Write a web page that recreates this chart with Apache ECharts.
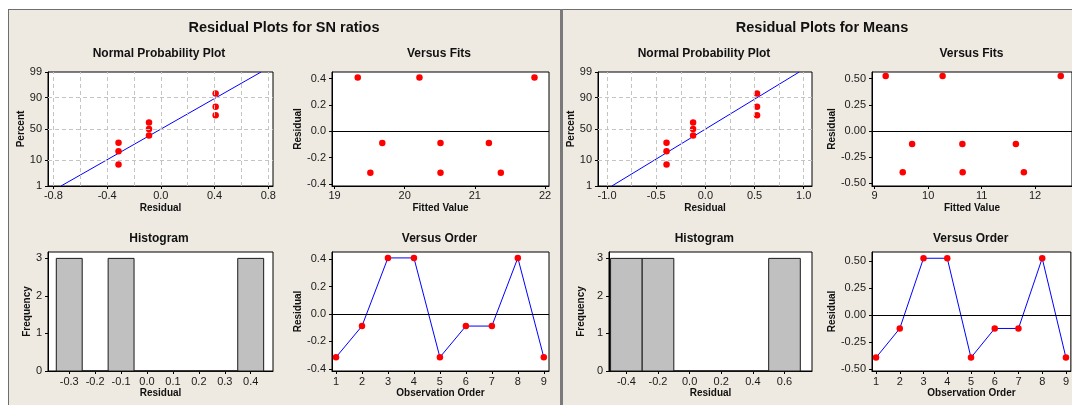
<!DOCTYPE html>
<html><head><meta charset="utf-8">
<script src="https://cdn.jsdelivr.net/npm/echarts@6/dist/echarts.min.js"></script>
<style>
html,body{margin:0;padding:0;background:#fff;overflow:hidden;width:1072px;height:405px}
#bg{position:absolute;left:8px;top:9px;width:1064px;height:396px;background:#EEEAE1;border-left:1px solid #6e6e6e;border-top:1px solid #6e6e6e;box-sizing:border-box}
#sep{position:absolute;left:560px;top:9px;width:3px;height:396px;background:#7a7a7a}
#c{position:absolute;left:0;top:0;width:1072px;height:405px}
</style>
</head><body><div id="bg"></div><div id="sep"></div><div id="c"></div>
<script>
// ---------- data ----------
const orders = [1, 2, 3, 4, 5, 6, 7, 8, 9];
const snResiduals = [-0.315, -0.088, 0.408, 0.408, -0.315, -0.088, -0.088, 0.408, -0.315];
const snFits = [19.51, 19.68, 19.33, 20.21, 20.51, 20.51, 21.20, 21.85, 21.37];
const meanResiduals = [-0.395, -0.125, 0.525, 0.525, -0.395, -0.125, -0.125, 0.525, -0.395];
const meanFits = [9.525, 9.70, 9.206, 10.27, 10.645, 10.64, 11.64, 12.48, 11.79];
const nppPercent = [7.4, 18.1, 28.7, 39.4, 50.0, 60.6, 71.3, 81.9, 92.6];
const snHistBins = [-0.3, -0.2, -0.1, 0.0, 0.1, 0.2, 0.3, 0.4];
const snHistCounts = [3, 0, 3, 0, 0, 0, 0, 3];
const meanHistBins = [-0.4, -0.2, 0.0, 0.2, 0.4, 0.6];
const meanHistCounts = [3, 3, 0, 0, 0, 3];
// ---------- tick labels ----------
const percentTicks = [1, 10, 50, 90, 99];
const percentGrid = [10, 50, 90];
const snNppXTicks = [-0.8, -0.4, 0.0, 0.4, 0.8];
const snNppXGrid = [-0.8, -0.6, -0.4, -0.2, 0.0, 0.2, 0.4, 0.6, 0.8];
const meanNppXTicks = [-1.0, -0.5, 0.0, 0.5, 1.0];
const meanNppXGrid = [-1.0, -0.75, -0.5, -0.25, 0.0, 0.25, 0.5, 0.75, 1.0];
const snFitTicks = [19, 20, 21, 22];
const meanFitTicks = [9, 10, 11, 12];
const snResTicks = [-0.4, -0.2, 0.0, 0.2, 0.4];
const meanResTicks = [-0.5, -0.25, 0.0, 0.25, 0.5];
const snHistTicks = [-0.3, -0.2, -0.1, 0.0, 0.1, 0.2, 0.3, 0.4];
const meanHistTicks = [-0.4, -0.2, 0.0, 0.2, 0.4, 0.6];
const freqTicks = [0, 1, 2, 3];
const orderTicks = [1, 2, 3, 4, 5, 6, 7, 8, 9];

// inverse standard normal CDF (probability-scale transform)
function normInv(p) {
  const a = [-3.969683028665376e+01, 2.209460984245205e+02, -2.759285104469687e+02, 1.383577518672690e+02, -3.066479806614716e+01, 2.506628277459239e+00];
  const b = [-5.447609879822406e+01, 1.615858368580409e+02, -1.556989798598866e+02, 6.680131188771972e+01, -1.328068155288572e+01];
  const c = [-7.784894002430293e-03, -3.223964580411365e-01, -2.400758277161838e+00, -2.549671010029087e+00, 4.374664141464968e+00, 2.938163982698783e+00];
  const d = [7.784695709041462e-03, 3.224671290700398e-01, 2.445134137142996e+00, 3.754408661907416e+00];
  const pl = 0.02425;
  let q, r;
  if (p < pl) { q = Math.sqrt(-2 * Math.log(p)); return (((((c[0]*q+c[1])*q+c[2])*q+c[3])*q+c[4])*q+c[5]) / ((((d[0]*q+d[1])*q+d[2])*q+d[3])*q+1); }
  if (p > 1 - pl) { q = Math.sqrt(-2 * Math.log(1 - p)); return -(((((c[0]*q+c[1])*q+c[2])*q+c[3])*q+c[4])*q+c[5]) / ((((d[0]*q+d[1])*q+d[2])*q+d[3])*q+1); }
  q = p - 0.5; r = q * q;
  return (((((a[0]*r+a[1])*r+a[2])*r+a[3])*r+a[4])*r+a[5])*q / (((((b[0]*r+b[1])*r+b[2])*r+b[3])*r+b[4])*r+1);
}
const z = pct => normInv(pct / 100);
const zTicks = percentTicks.map(z);
const zMin = zTicks[0], zMax = zTicks[zTicks.length - 1];

const TICKFONT = "'Liberation Sans Narrow','Liberation Sans',Arial,sans-serif";
const BOLDFONT = "'Liberation Sans',Arial,sans-serif";

const grids = [
  { left: 48, top: 72, width: 225, height: 114 },   // 0 SN NPP
  { left: 332, top: 72, width: 217, height: 114 },  // 1 SN fits
  { left: 48, top: 252, width: 225, height: 119 },  // 2 SN hist
  { left: 332, top: 252, width: 217, height: 119 }, // 3 SN order
  { left: 598, top: 72, width: 214, height: 114 },  // 4 Mean NPP
  { left: 872, top: 72, width: 200, height: 114 },  // 5 Mean fits
  { left: 609, top: 252, width: 203, height: 119 }, // 6 Mean hist
  { left: 872, top: 252, width: 200, height: 119 }  // 7 Mean order
].map(g => Object.assign({ show: true, backgroundColor: '#fff', borderColor: '#000', borderWidth: 1, containLabel: false }, g));

function axis(idx, min, max, ticks, fmt, name, nameGap, isY, margin) {
  return {
    type: 'value', gridIndex: idx, min: min, max: max, scale: true,
    axisLine: { show: true, onZero: false, lineStyle: { color: '#000', width: 1 } },
    axisTick: { show: true, length: 3, customValues: ticks, lineStyle: { color: '#000' } },
    axisLabel: { show: true, customValues: ticks, formatter: fmt, fontSize: 11, color: '#1a1a1a', fontFamily: TICKFONT, margin: margin, showMinLabel: true, showMaxLabel: true },
    splitLine: { show: false },
    name: name, nameLocation: 'middle', nameGap: nameGap, nameRotate: isY ? 90 : 0,
    nameTextStyle: { fontWeight: 'bold', fontSize: 10, fontFamily: BOLDFONT, color: '#111' }
  };
}
const f0 = v => Number(v).toFixed(0);
const f1 = v => (Math.abs(v) < 1e-9 ? 0 : v).toFixed(1);
const f2 = v => (Math.abs(v) < 1e-9 ? 0 : v).toFixed(2);
const fPct = v => { const i = zTicks.findIndex(t => Math.abs(t - v) < 1e-6); return i >= 0 ? String(percentTicks[i]) : ''; };

const xAxes = [
  axis(0, -0.84, 0.835, snNppXTicks, f1, 'Residual', 17, false, 4),
  axis(1, 18.963, 22.057, snFitTicks, f0, 'Fitted Value', 17, false, 4),
  axis(2, -0.382, 0.486, snHistTicks, f1, 'Residual', 17, false, 5),
  axis(3, 0.846, 9.2, orderTicks, f0, 'Observation Order', 17, false, 5),
  axis(4, -1.092, 1.084, meanNppXTicks, f1, 'Residual', 17, false, 4),
  axis(5, 8.95, 12.69, meanFitTicks, f0, 'Fitted Value', 17, false, 4),
  axis(6, -0.51, 0.774, meanHistTicks, f1, 'Residual', 17, false, 5),
  axis(7, 0.83, 9.207, orderTicks, f0, 'Observation Order', 17, false, 5)
];
const yAxes = [
  axis(0, zMin, zMax, zTicks, fPct, 'Percent', 21, true, 6),
  axis(1, -0.415, 0.45, snResTicks, f1, 'Residual', 28, true, 6),
  axis(2, 0, 3.17, freqTicks, f0, 'Frequency', 14, true, 6),
  axis(3, -0.415, 0.451, snResTicks, f1, 'Residual', 28, true, 6),
  axis(4, zMin, zMax, zTicks, fPct, 'Percent', 18, true, 6),
  axis(5, -0.526, 0.563, meanResTicks, f2, 'Residual', 30, true, 6),
  axis(6, 0, 3.17, freqTicks, f0, 'Frequency', 23, true, 6),
  axis(7, -0.519, 0.583, meanResTicks, f2, 'Residual', 30, true, 6)
];

const RED = '#ff0000', BLUE = '#0000ff';
function stats(arr) {
  const m = arr.reduce((s, v) => s + v, 0) / arr.length;
  const sd = Math.sqrt(arr.reduce((s, v) => s + (v - m) * (v - m), 0) / (arr.length - 1));
  return { m, sd };
}
function nppSeries(idx, residuals, xGrid) {
  const sorted = residuals.slice().sort((a, b) => a - b);
  const st = stats(residuals);
  return [
    { type: 'line', xAxisIndex: idx, yAxisIndex: idx, data: [], silent: true, z: 1,
      markLine: { silent: true, symbol: 'none', label: { show: false },
        lineStyle: { color: '#c4c4c4', type: [4, 3], width: 1 },
        data: xGrid.map(v => ({ xAxis: v })).concat(percentGrid.map(p => ({ yAxis: z(p) }))) } },
    { type: 'line', xAxisIndex: idx, yAxisIndex: idx, z: 2, showSymbol: false, silent: true,
      lineStyle: { color: BLUE, width: 1 },
      data: [[st.m + st.sd * zMin, zMin], [st.m + st.sd * zMax, zMax]] },
    { type: 'scatter', xAxisIndex: idx, yAxisIndex: idx, z: 3, symbol: 'circle', symbolSize: 6.5,
      itemStyle: { color: RED, opacity: 1 }, data: sorted.map((v, i) => [v, z(nppPercent[i])]) }
  ];
}
function zeroLine() {
  return { silent: true, symbol: 'none', label: { show: false }, lineStyle: { color: '#000', type: 'solid', width: 1 }, data: [{ yAxis: 0 }] };
}
function fitsSeries(idx, fits, residuals) {
  return [{ type: 'scatter', xAxisIndex: idx, yAxisIndex: idx, symbol: 'circle', symbolSize: 6.5,
    itemStyle: { color: RED, opacity: 1 }, data: fits.map((f, i) => [f, residuals[i]]), markLine: zeroLine() }];
}
function orderSeries(idx, residuals) {
  return [{ type: 'line', xAxisIndex: idx, yAxisIndex: idx, symbol: 'circle', symbolSize: 6.5, showSymbol: true,
    itemStyle: { color: RED, opacity: 1 }, lineStyle: { color: BLUE, width: 1 },
    data: orders.map((o, i) => [o, residuals[i]]), markLine: zeroLine() }];
}
function histSeries(idx, bins, counts, w) {
  return [{ type: 'custom', xAxisIndex: idx, yAxisIndex: idx,
    data: bins.map((b, i) => [b, counts[i]]),
    renderItem: (params, api) => {
      const c = api.value(0), n = api.value(1);
      const p1 = api.coord([c - w / 2, n]);
      const p2 = api.coord([c + w / 2, 0]);
      return { type: 'rect', shape: { x: p1[0], y: p1[1], width: p2[0] - p1[0], height: p2[1] - p1[1] },
        style: { fill: '#c0c0c0', stroke: '#1a1a1a', lineWidth: 1 } };
    } }];
}

const series = [].concat(
  nppSeries(0, snResiduals, snNppXGrid),
  fitsSeries(1, snFits, snResiduals),
  histSeries(2, snHistBins, snHistCounts, 0.1),
  orderSeries(3, snResiduals),
  nppSeries(4, meanResiduals, meanNppXGrid),
  fitsSeries(5, meanFits, meanResiduals),
  histSeries(6, meanHistBins, meanHistCounts, 0.2),
  orderSeries(7, meanResiduals)
);

function txt(t, x, y, size) {
  return { type: 'text', x: x, y: y, z: 100, silent: true,
    style: { text: t, font: 'bold ' + size + 'px ' + BOLDFONT, fill: '#111',
      textAlign: 'center', align: 'center', textVerticalAlign: 'middle', verticalAlign: 'middle' } };
}
const graphic = [
  txt('Residual Plots for SN ratios', 284, 28, 14.5),
  txt('Residual Plots for Means', 822, 28, 14.5),
  txt('Normal Probability Plot', 159, 53.5, 12),
  txt('Versus Fits', 439, 53.5, 12),
  txt('Histogram', 159, 239, 12),
  txt('Versus Order', 439.5, 239, 12),
  txt('Normal Probability Plot', 704, 53.5, 12),
  txt('Versus Fits', 971.5, 53.5, 12),
  txt('Histogram', 704.3, 239, 12),
  txt('Versus Order', 970.7, 239, 12)
];

const chart = echarts.init(document.getElementById('c'), null, { renderer: 'canvas' });
chart.setOption({
  animation: false,
  backgroundColor: 'transparent',
  grid: grids, xAxis: xAxes, yAxis: yAxes, series: series, graphic: graphic
});
</script></body></html>
